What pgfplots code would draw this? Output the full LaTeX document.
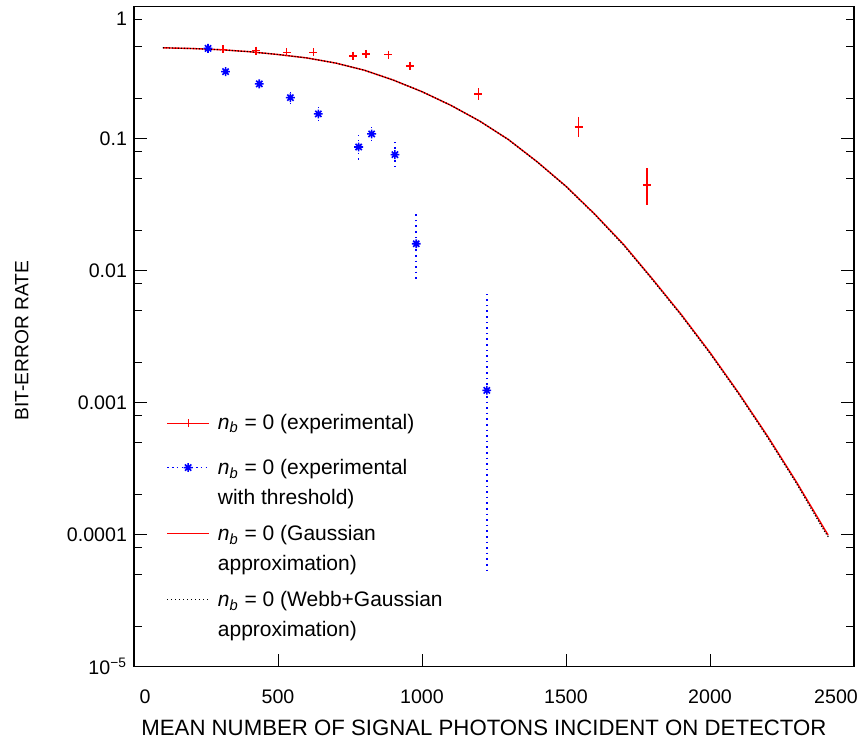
\documentclass[border=0pt]{standalone}
\usepackage{fontspec}
\setmainfont{Liberation Sans}
\usepackage{pgfplots}
\pgfplotsset{compat=1.18}
\usepackage{pgfplotstable}
\usetikzlibrary{plotmarks}

\pgfdeclareplotmark{mstar}{%
 \pgfpathmoveto{\pgfqpoint{-\pgfplotmarksize}{0pt}}\pgfpathlineto{\pgfqpoint{\pgfplotmarksize}{0pt}}%
 \pgfpathmoveto{\pgfqpoint{0pt}{-\pgfplotmarksize}}\pgfpathlineto{\pgfqpoint{0pt}{\pgfplotmarksize}}%
 \pgfpathmoveto{\pgfqpoint{-.707\pgfplotmarksize}{-.707\pgfplotmarksize}}\pgfpathlineto{\pgfqpoint{.707\pgfplotmarksize}{.707\pgfplotmarksize}}%
 \pgfpathmoveto{\pgfqpoint{-.707\pgfplotmarksize}{.707\pgfplotmarksize}}\pgfpathlineto{\pgfqpoint{.707\pgfplotmarksize}{-.707\pgfplotmarksize}}%
 \pgfusepathqstroke}

\pgfplotstableread{
x y ep em
257 0.483 0.030 0.028
308 0.475 0.032 0.030
424 0.464 0.032 0.030
530 0.451 0.031 0.029
623 0.451 0.031 0.029
761 0.425 0.030 0.028
805 0.438 0.031 0.029
883 0.433 0.031 0.029
958 0.357 0.026 0.024
1196 0.218 0.024 0.022
1544 0.123 0.023 0.020
1781 0.0446 0.0154 0.0131
}\redexp

\pgfplotstableread{
x y ep em
257 0.483 0.010 0.010
318 0.322 0.018 0.017
435 0.260 0.024 0.022
543 0.2045 0.0225 0.0203
640 0.154 0.0185 0.0165
780 0.0865 0.021 0.017
825 0.1086 0.016 0.019
906 0.0757 0.019 0.0151
980 0.0160 0.0109 0.00742
1225 0.00124 0.00542 0.00119
}\blueexp

\pgfplotstableread{
x y
100 0.488
200 0.482
300 0.472
400 0.456
500 0.434
600 0.409
700 0.374
800 0.330
900 0.278
1000 0.227
1100 0.179
1200 0.136
1300 0.0985
1400 0.0668
1500 0.0436
1600 0.0268
1700 0.0158
1800 0.00866
1900 0.00466
2000 0.00240
2100 0.00118
2200 0.000557
2300 0.000251
2400 0.000108
2410 0.0000996
}\gauss

\pgfplotstableread{
x y
100 0.488
200 0.482
300 0.472
400 0.456
500 0.434
600 0.409
700 0.374
800 0.330
900 0.278
1000 0.227
1100 0.179
1200 0.136
1300 0.0983
1400 0.0666
1500 0.0434
1600 0.0266
1700 0.0156
1800 0.00855
1900 0.00459
2000 0.00236
2100 0.00116
2200 0.000545
2300 0.000245
2400 0.000104
2412 0.0000955
}\webb

\newcommand{\nb}{\textit{n}\textsubscript{\textit{b}}}

\begin{document}
\begin{tikzpicture}
\begin{axis}[
  scale only axis, width=360pt, height=330pt,
  ymode=log, xmin=0, xmax=2500, ymin=1e-5, ymax=1,
  axis line style={line width=0.8pt},
  every tick/.style={black, line width=0.5pt},
  major tick length=6.5pt, minor tick length=4pt,
  xtick={0,500,1000,1500,2000,2500},
  xticklabels={\makebox[0pt][c]{\hspace*{11pt}0},500,1000,1500,2000,\makebox[0pt][c]{\hspace*{-18pt}2500}},
  xtick pos=left,
  ytick={1e-5,1e-4,1e-3,1e-2,1e-1,1},
  yticklabels={10\textsuperscript{−5},0.0001,0.001,0.01,0.1,\raisebox{-9.5pt}[0pt][0pt]{1}},
  minor ytick={0.8,0.5,0.2,0.08,0.05,0.02,0.008,0.005,0.002,0.0008,0.0005,0.0002,0.00008,0.00005,0.00002},
  ytick pos=both,
  /pgf/number format/assume math mode=true,
  tick label style={font=\fontsize{9.8}{11}\selectfont},
  xticklabel style={yshift=-8pt},
  yticklabel style={xshift=0pt},
  xlabel={MEAN NUMBER OF SIGNAL PHOTONS INCIDENT ON DETECTOR},
  ylabel={BIT-ERROR RATE},
  xlabel style={font=\fontsize{11.1}{13}\selectfont, at={(axis description cs:0.486,-0.0924)}, anchor=center},
  ylabel style={font=\fontsize{9.6}{11}\selectfont, at={(axis description cs:-0.156,0.494)}, anchor=center},
  legend cell align=left,
  legend style={at={(axis description cs:0.036,0.3894)}, anchor=north west, draw=none, fill=none,
    font=\fontsize{10.5}{14.8}\selectfont, row sep=6.3pt, column sep=0pt,
    nodes={inner ysep=0pt, inner xsep=4pt}},
]
\addplot[red, only marks, mark=+, mark size=2pt, line width=0.8pt, mark options={red, solid},
  legend image code/.code={\draw[red, line width=0.6pt] (0pt,0pt) -- (21pt,0pt);
     \draw[red, line width=0.6pt] (10.5pt,-2pt) -- (10.5pt,2pt);},
  error bars/.cd, y dir=both, y explicit, error mark=none,
  error bar style={red, line width=0.8pt, solid}]
  table[x=x, y=y, y error plus=ep, y error minus=em] {\redexp};
\addlegendentry{\nb{} = 0 (experimental)}
\addplot[blue, only marks, mark=mstar, mark size=2.2pt, line width=0.8pt, mark options={blue, solid},
  legend image code/.code={\draw[blue, line width=0.8pt, dash pattern=on 0.8pt off 1.6pt] (0pt,4.3pt) -- (21pt,4.3pt);
     \draw[blue, line width=0.8pt, solid] plot[mark=mstar, mark size=2.2pt] coordinates {(10.5pt,4.3pt)};},
  error bars/.cd, y dir=both, y explicit, error mark=none,
  error bar style={blue, line width=0.8pt, dash pattern=on 0.8pt off 2pt}]
  table[x=x, y=y, y error plus=ep, y error minus=em] {\blueexp};
\addlegendentry{\begin{tabular}[b]{@{}l@{}}\rule{0pt}{15pt}\nb{} = 0 (experimental\\with threshold)\end{tabular}}
\addplot[red, line width=0.7pt, no marks,
  legend image code/.code={\draw[red, line width=0.7pt] (0pt,6.6pt) -- (21pt,6.6pt);}]
  table[x=x, y=y] {\gauss};
\addlegendentry{\begin{tabular}[b]{@{}l@{}}\nb{} = 0 (Gaussian\\approximation)\end{tabular}}
\addplot[black, line width=0.6pt, no marks, dash pattern=on 0.6pt off 0.9pt,
  legend image code/.code={\draw[black, line width=0.6pt, dash pattern=on 0.6pt off 1.4pt] (0pt,6.6pt) -- (21pt,6.6pt);}]
  table[x=x, y=y] {\webb};
\addlegendentry{\begin{tabular}[b]{@{}l@{}}\nb{} = 0 (Webb+Gaussian\\approximation)\end{tabular}}
\end{axis}
\path ([xshift=-67pt,yshift=-39pt]current axis.south west) rectangle ([xshift=5.5pt,yshift=2.5pt]current axis.north east);
\end{tikzpicture}
\end{document}
